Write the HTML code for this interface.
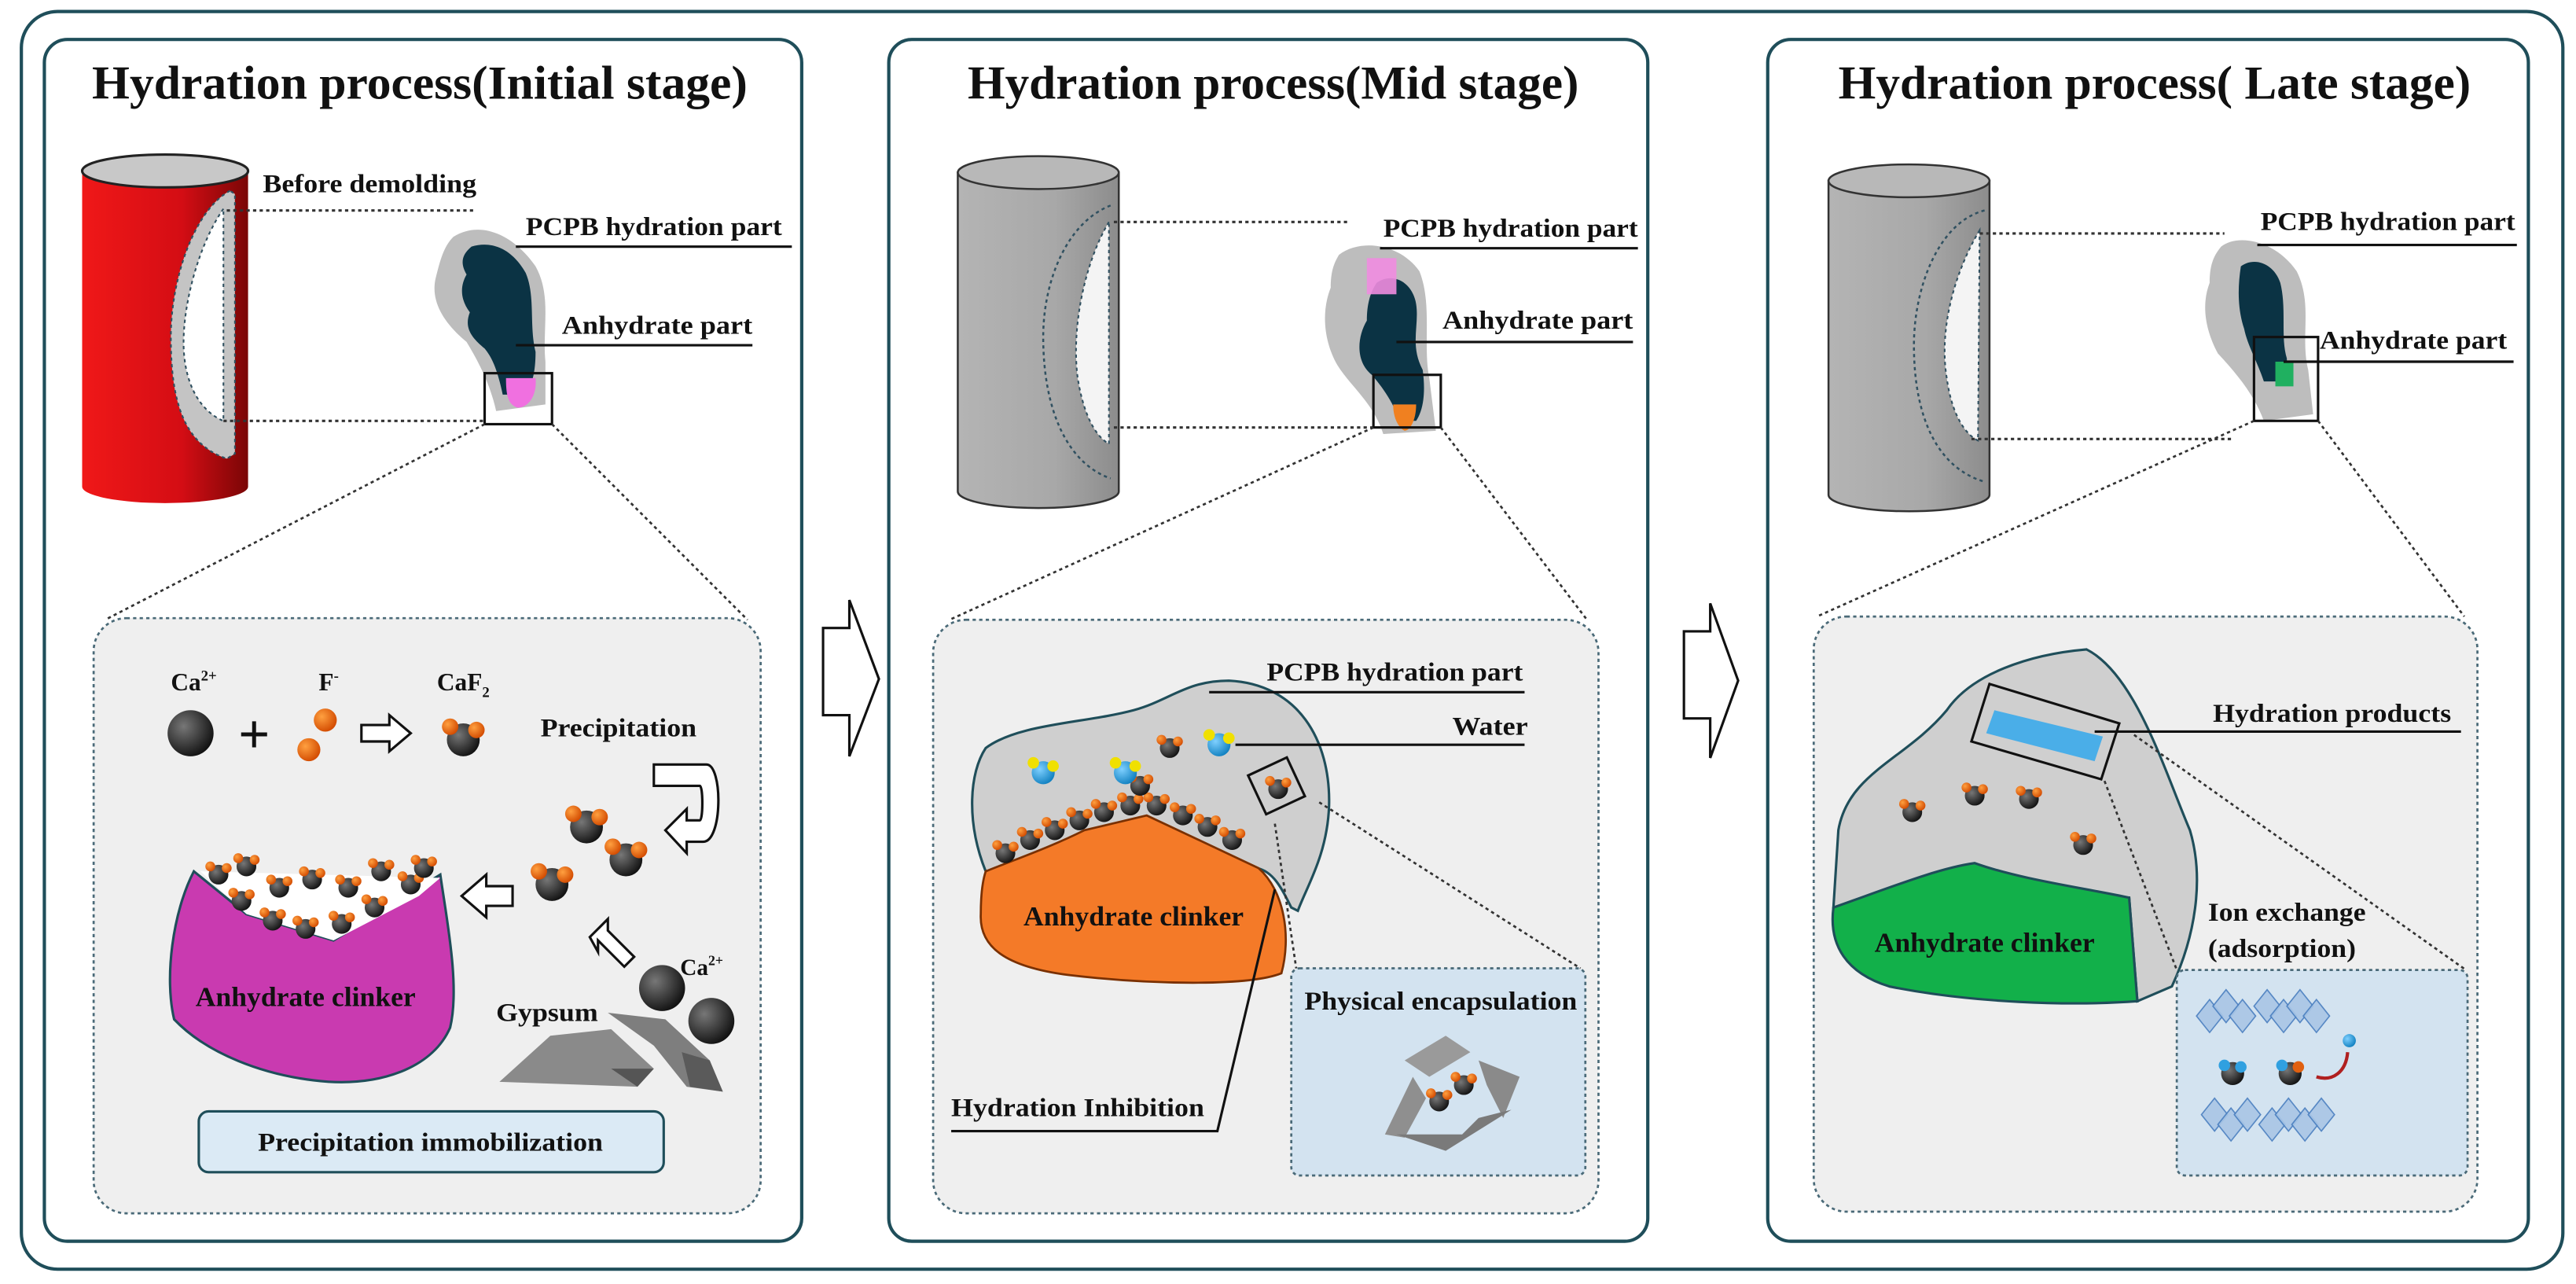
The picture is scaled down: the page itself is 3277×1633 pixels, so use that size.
<!DOCTYPE html>
<html><head><meta charset="utf-8"><style>
html,body{margin:0;padding:0;background:#fff}
svg{display:block}
text{font-family:"Liberation Serif",serif;font-weight:bold;fill:#111}
</style></head><body>
<svg width="3277" height="1633" viewBox="0 0 1568 781" preserveAspectRatio="none" xmlns="http://www.w3.org/2000/svg">
<defs>
<radialGradient id="bk" cx="0.35" cy="0.35" r="0.7"><stop offset="0" stop-color="#777"/><stop offset="1" stop-color="#111"/></radialGradient>
<radialGradient id="or" cx="0.35" cy="0.35" r="0.7"><stop offset="0" stop-color="#ffa040"/><stop offset="1" stop-color="#d24a00"/></radialGradient>
<radialGradient id="bl" cx="0.35" cy="0.35" r="0.7"><stop offset="0" stop-color="#7fd0ff"/><stop offset="1" stop-color="#1080c0"/></radialGradient>
<linearGradient id="red" x1="0" x2="1"><stop offset="0" stop-color="#f01818"/><stop offset="0.6" stop-color="#d40d14"/><stop offset="1" stop-color="#7a0606"/></linearGradient>
<linearGradient id="gry" x1="0" x2="1"><stop offset="0" stop-color="#b4b4b4"/><stop offset="0.6" stop-color="#a8a8a8"/><stop offset="1" stop-color="#8c8c8c"/></linearGradient>
<g id="caf"><circle cx="0" cy="0" r="10" fill="url(#bk)"/><circle cx="-8" cy="-8" r="5" fill="url(#or)"/><circle cx="8" cy="-6" r="5" fill="url(#or)"/></g>
<g id="caf2"><circle cx="0" cy="0" r="6" fill="url(#bk)"/><circle cx="-5" cy="-5" r="3" fill="url(#or)"/><circle cx="5" cy="-4" r="3" fill="url(#or)"/></g>
<g id="h2o"><circle cx="0" cy="0" r="7" fill="url(#bl)"/><circle cx="-6" cy="-6" r="3.5" fill="#f0e000"/><circle cx="6" cy="-4" r="3.5" fill="#f0e000"/></g>
<g id="dia" fill="#a9c6e6" stroke="#4a7fc0" stroke-width="0.8" opacity="0.9"><path d="M0 0 L8 -10 L16 0 L8 10Z"/></g>
</defs>
<rect x="0" y="0" width="1568" height="781" fill="#fff"/>
<rect x="13" y="7" width="1547" height="765" rx="22" fill="none" stroke="#1f4e5a" stroke-width="2"/>

<!-- ===== Panel 1 ===== -->
<rect x="27" y="24" width="461" height="731" rx="14" fill="#fff" stroke="#1f4e5a" stroke-width="2"/>
<text x="56" y="60" font-size="29" textLength="399" lengthAdjust="spacingAndGlyphs">Hydration process(Initial stage)</text>
<path d="M50 104 L50 296 A50.5 10 0 0 0 151 296 L151 104 Z" fill="url(#red)"/>
<ellipse cx="100.5" cy="104" rx="50.5" ry="10" fill="#c8c8c8" stroke="#222" stroke-width="1.5"/>
<path d="M140 116 C118 128 104 170 104 205 C104 245 112 270 138 279 L143 276 L143 118 Z" fill="#c4c4c4" stroke="#305060" stroke-width="1" stroke-dasharray="2,2"/>
<path d="M136 127 C120 150 110 190 112 215 C114 240 126 252 136 256 Z" fill="#fff" stroke="#305060" stroke-width="1" stroke-dasharray="2,2"/>
<text x="160" y="117" font-size="15.5" textLength="130" lengthAdjust="spacingAndGlyphs">Before demolding</text>
<line x1="138" y1="128" x2="290" y2="128" stroke="#333" stroke-width="1.5" stroke-dasharray="2,2"/>
<line x1="136" y1="256" x2="295" y2="256" stroke="#333" stroke-width="1.5" stroke-dasharray="2,2"/>
<path d="M276 144 C292 134 312 142 326 162 C336 180 330 200 332 220 L332 246 L302 250 C298 232 290 218 284 208 C272 198 262 185 265 170 C268 158 270 150 276 144Z" fill="#bdbdbd"/>
<path d="M287 150 C300 146 312 152 320 166 C326 180 322 198 326 214 C326 226 324 234 320 240 L306 240 C303 226 300 218 295 212 C288 206 282 200 286 190 C280 182 280 174 284 167 C280 160 281 155 287 150Z" fill="#0b3344"/>
<path d="M308 230 L326 230 C327 240 322 248 315 248 C309 246 308 240 308 230Z" fill="#f070e0"/>
<rect x="295" y="227" width="41" height="31" fill="none" stroke="#111" stroke-width="1.5"/>
<text x="320" y="143" font-size="15.5" textLength="156" lengthAdjust="spacingAndGlyphs">PCPB hydration part</text>
<line x1="314" y1="150" x2="482" y2="150" stroke="#111" stroke-width="1.5"/>
<text x="342" y="203" font-size="15.5" textLength="116" lengthAdjust="spacingAndGlyphs">Anhydrate part</text>
<line x1="314" y1="210" x2="458" y2="210" stroke="#111" stroke-width="1.5"/>
<line x1="295" y1="258" x2="64" y2="377" stroke="#333" stroke-width="1.3" stroke-dasharray="2,2"/>
<line x1="336" y1="258" x2="455" y2="377" stroke="#333" stroke-width="1.3" stroke-dasharray="2,2"/>
<rect x="57" y="376" width="406" height="362" rx="20" fill="#efefef" stroke="#4a6a78" stroke-width="1.3" stroke-dasharray="2,2"/>
<text x="104" y="420" font-size="15">Ca<tspan font-size="9" dy="-6">2+</tspan></text>
<circle cx="116" cy="446" r="14" fill="url(#bk)"/>
<text x="145" y="458" font-size="34" font-family="Liberation Sans">+</text>
<text x="194" y="420" font-size="15">F<tspan font-size="9" dy="-6">-</tspan></text>
<circle cx="198" cy="438" r="7" fill="url(#or)"/><circle cx="188" cy="456" r="7" fill="url(#or)"/>
<path d="M220 441 L237 441 L237 435 L250 446 L237 457 L237 451 L220 451Z" fill="#fff" stroke="#111" stroke-width="1.5"/>
<text x="266" y="420" font-size="15">CaF<tspan font-size="9" dy="4">2</tspan></text>
<use href="#caf" x="282" y="450"/>
<text x="329" y="448" font-size="15.5" textLength="95" lengthAdjust="spacingAndGlyphs">Precipitation</text>
<path d="M398 465 L430 465 C440 465 440 512 428 512 L418 512 L418 519 L405 505 L418 492 L418 499 L426 499 C428 499 428 478 426 478 L398 478Z" fill="#fff" stroke="#111" stroke-width="1.5"/>
<use href="#caf" x="357" y="503"/><use href="#caf" x="381" y="523"/><use href="#caf" x="336" y="538"/>
<path d="M312 539 L296 539 L296 532 L281 545 L296 558 L296 551 L312 551Z" fill="#fff" stroke="#111" stroke-width="1.5"/>
<path d="M118 530 L150 556 L203 572 L268 532 C272 560 280 600 274 625 C264 648 235 660 200 658 C160 655 125 640 106 620 C100 595 105 555 118 530Z" fill="#c93ab0" stroke="#1f4e5a" stroke-width="1.5"/>
<path d="M122 530 L268 534 L255 545 L203 572 L150 556Z" fill="#fff"/>
<use href="#caf2" x="133" y="532"/><use href="#caf2" x="150" y="527"/><use href="#caf2" x="170" y="540"/><use href="#caf2" x="190" y="535"/><use href="#caf2" x="212" y="540"/><use href="#caf2" x="232" y="530"/><use href="#caf2" x="250" y="538"/><use href="#caf2" x="147" y="548"/><use href="#caf2" x="166" y="560"/><use href="#caf2" x="186" y="565"/><use href="#caf2" x="208" y="562"/><use href="#caf2" x="228" y="552"/><use href="#caf2" x="258" y="528"/>
<text x="119" y="612" font-size="16.5" textLength="134" lengthAdjust="spacingAndGlyphs">Anhydrate clinker</text>
<path d="M359 570 L370 559 L370 566 L386 582 L380 588 L364 572 L364 579Z" fill="#fff" stroke="#111" stroke-width="1.5"/>
<circle cx="403" cy="601" r="14" fill="url(#bk)"/><circle cx="433" cy="621" r="14" fill="url(#bk)"/>
<text x="414" y="593" font-size="14">Ca<tspan font-size="8.5" dy="-6">2+</tspan></text>
<text x="302" y="621" font-size="15.5" textLength="62" lengthAdjust="spacingAndGlyphs">Gypsum</text>
<path d="M304 658 L335 630 L372 626 L398 650 L388 661 Z" fill="#8a8a8a"/>
<path d="M372 650 L398 650 L388 661Z" fill="#555"/>
<path d="M370 616 L405 620 L432 645 L440 664 L418 661 L398 636 Z" fill="#7e7e7e"/>
<path d="M415 640 L432 645 L440 664 L420 661Z" fill="#5a5a5a"/>
<rect x="121" y="676" width="283" height="37" rx="6" fill="#dbeaf5" stroke="#1f4e5a" stroke-width="1.5"/>
<text x="262" y="700" font-size="15.5" text-anchor="middle" textLength="210" lengthAdjust="spacingAndGlyphs">Precipitation immobilization</text>

<!-- big arrows -->
<path d="M501 382 L517 382 L517 365 L535 413 L517 460 L517 435 L501 435Z" fill="#fff" stroke="#111" stroke-width="1.5"/>
<path d="M1025 384 L1041 384 L1041 367 L1058 414 L1041 461 L1041 437 L1025 437Z" fill="#fff" stroke="#111" stroke-width="1.5"/>

<!-- ===== Panel 2 ===== -->
<rect x="541" y="24" width="462" height="731" rx="14" fill="#fff" stroke="#1f4e5a" stroke-width="2"/>
<text x="589" y="60" font-size="29" textLength="372" lengthAdjust="spacingAndGlyphs">Hydration process(Mid stage)</text>
<path d="M583 105 L583 299 A49 10 0 0 0 681 299 L681 105 Z" fill="url(#gry)" stroke="#333" stroke-width="1.2"/>
<ellipse cx="632" cy="105" rx="49" ry="10" fill="#b8b8b8" stroke="#333" stroke-width="1.2"/>
<path d="M676 125 C650 135 635 170 635 205 C635 250 650 282 676 291" fill="none" stroke="#305060" stroke-width="1.2" stroke-dasharray="2,2"/>
<path d="M675 135 C660 160 652 200 656 230 C660 255 668 266 675 270 Z" fill="#f4f4f4" stroke="#305060" stroke-width="1" stroke-dasharray="2,2"/>
<line x1="678" y1="135" x2="822" y2="135" stroke="#333" stroke-width="1.5" stroke-dasharray="2,2"/>
<line x1="678" y1="260" x2="836" y2="260" stroke="#333" stroke-width="1.5" stroke-dasharray="2,2"/>
<path d="M815 155 C828 145 852 148 864 165 C872 185 866 210 870 230 L874 262 L842 264 C836 245 822 235 814 222 C806 208 804 190 810 175 C810 165 812 160 815 155Z" fill="#bdbdbd"/>
<path d="M838 172 C848 165 860 172 862 185 C864 198 858 210 866 225 C868 240 866 250 862 256 L852 256 C848 245 842 236 835 228 C825 220 826 205 832 195 C832 185 834 178 838 172Z" fill="#0b3344"/>
<rect x="832" y="157" width="18" height="22" fill="#f08ce0" opacity="0.9"/>
<path d="M848 246 L862 246 C862 256 858 262 855 262 C851 260 848 254 848 246Z" fill="#f08020"/>
<rect x="836" y="228" width="41" height="32" fill="none" stroke="#111" stroke-width="1.5"/>
<text x="842" y="144" font-size="15.5" textLength="155" lengthAdjust="spacingAndGlyphs">PCPB hydration part</text>
<line x1="840" y1="151" x2="997" y2="151" stroke="#111" stroke-width="1.5"/>
<text x="878" y="200" font-size="15.5" textLength="116" lengthAdjust="spacingAndGlyphs">Anhydrate part</text>
<line x1="850" y1="208" x2="994" y2="208" stroke="#111" stroke-width="1.5"/>
<line x1="836" y1="260" x2="578" y2="377" stroke="#333" stroke-width="1.3" stroke-dasharray="2,2"/>
<line x1="877" y1="260" x2="966" y2="377" stroke="#333" stroke-width="1.3" stroke-dasharray="2,2"/>
<rect x="568" y="377" width="405" height="361" rx="20" fill="#efefef" stroke="#4a6a78" stroke-width="1.3" stroke-dasharray="2,2"/>
<path d="M600 455 C620 440 660 440 690 432 C712 426 722 414 748 414 C790 416 810 450 809 490 C808 520 795 540 790 554 L786 552 C780 540 775 530 765 528 L600 530 C588 500 590 470 600 455Z" fill="#cfcfcf" stroke="#1f4e5a" stroke-width="1.5"/>
<path d="M600 530 C620 522 640 515 660 505 L698 496 L766 528 C782 542 786 570 780 592 C760 600 700 599 650 593 C612 588 596 576 597 556 C597 545 598 536 600 530Z" fill="#f47a28" stroke="#7a3000" stroke-width="1.3"/>
<use href="#caf2" x="612" y="519"/><use href="#caf2" x="627" y="511"/><use href="#caf2" x="642" y="505"/><use href="#caf2" x="657" y="499"/><use href="#caf2" x="672" y="494"/><use href="#caf2" x="688" y="490"/><use href="#caf2" x="704" y="490"/><use href="#caf2" x="720" y="496"/><use href="#caf2" x="735" y="503"/><use href="#caf2" x="750" y="511"/><use href="#caf2" x="694" y="478"/>
<use href="#h2o" x="635" y="470"/><use href="#h2o" x="685" y="470"/><use href="#h2o" x="742" y="453"/>
<use href="#caf2" x="712" y="455"/>
<text x="623" y="563" font-size="16.5" textLength="134" lengthAdjust="spacingAndGlyphs">Anhydrate clinker</text>
<text x="771" y="414" font-size="15.5" textLength="156" lengthAdjust="spacingAndGlyphs">PCPB hydration part</text>
<line x1="736" y1="421" x2="928" y2="421" stroke="#111" stroke-width="1.5"/>
<text x="884" y="447" font-size="15.5" textLength="46" lengthAdjust="spacingAndGlyphs">Water</text>
<line x1="752" y1="453" x2="928" y2="453" stroke="#111" stroke-width="1.5"/>
<rect x="764" y="465" width="26" height="26" fill="none" stroke="#111" stroke-width="1.5" transform="rotate(-25 777 478)"/>
<use href="#caf2" x="778" y="480"/>
<line x1="776" y1="501" x2="789" y2="589" stroke="#333" stroke-width="1.3" stroke-dasharray="2,2"/>
<line x1="803" y1="488" x2="962" y2="589" stroke="#333" stroke-width="1.3" stroke-dasharray="2,2"/>
<rect x="786" y="589" width="179" height="126" rx="5" fill="#d3e3f0" stroke="#4a6a78" stroke-width="1.3" stroke-dasharray="2,2"/>
<text x="794" y="614" font-size="15.5" textLength="166" lengthAdjust="spacingAndGlyphs">Physical encapsulation</text>
<path d="M855 645 L880 630 L895 640 L870 655Z" fill="#9a9a9a"/>
<path d="M900 645 L925 655 L915 680 L905 660Z" fill="#8a8a8a"/>
<path d="M843 690 L860 655 L868 668 L855 692Z" fill="#8f8f8f"/>
<path d="M850 690 L890 690 L900 680 L920 675 L880 700Z" fill="#7a7a7a"/>
<use href="#caf2" x="876" y="670"/><use href="#caf2" x="891" y="660"/>
<text x="579" y="679" font-size="15.5" textLength="154" lengthAdjust="spacingAndGlyphs">Hydration Inhibition</text>
<polyline points="579,688 741,688 776,541" fill="none" stroke="#111" stroke-width="1.5"/>

<!-- ===== Panel 3 ===== -->
<rect x="1076" y="24" width="463" height="731" rx="14" fill="#fff" stroke="#1f4e5a" stroke-width="2"/>
<text x="1119" y="60" font-size="29" textLength="385" lengthAdjust="spacingAndGlyphs">Hydration process( Late stage)</text>
<path d="M1113 110 L1113 301 A49 10 0 0 0 1211 301 L1211 110 Z" fill="url(#gry)" stroke="#333" stroke-width="1.2"/>
<ellipse cx="1162" cy="110" rx="49" ry="10" fill="#b8b8b8" stroke="#333" stroke-width="1.2"/>
<path d="M1208 128 C1180 135 1165 175 1165 210 C1165 255 1180 285 1208 293" fill="none" stroke="#305060" stroke-width="1.2" stroke-dasharray="2,2"/>
<path d="M1205 140 C1190 165 1180 200 1185 230 C1188 252 1196 264 1204 268 Z" fill="#f4f4f4" stroke="#305060" stroke-width="1" stroke-dasharray="2,2"/>
<line x1="1205" y1="142" x2="1354" y2="142" stroke="#333" stroke-width="1.5" stroke-dasharray="2,2"/>
<line x1="1200" y1="267" x2="1358" y2="267" stroke="#333" stroke-width="1.5" stroke-dasharray="2,2"/>
<path d="M1352 150 C1362 142 1385 146 1398 165 C1408 185 1400 205 1405 225 L1408 252 L1378 256 C1372 240 1362 228 1350 215 C1342 200 1340 185 1345 172 C1345 162 1347 156 1352 150Z" fill="#bdbdbd"/>
<path d="M1364 162 C1372 156 1384 160 1388 172 C1392 188 1388 205 1392 218 L1392 232 L1378 232 C1374 220 1368 210 1366 200 C1362 188 1362 175 1364 162Z" fill="#0b3344"/>
<rect x="1385" y="220" width="11" height="15" fill="#20b060"/>
<rect x="1372" y="205" width="39" height="51" fill="none" stroke="#111" stroke-width="1.5"/>
<text x="1376" y="140" font-size="15.5" textLength="155" lengthAdjust="spacingAndGlyphs">PCPB hydration part</text>
<line x1="1374" y1="149" x2="1532" y2="149" stroke="#111" stroke-width="1.5"/>
<text x="1412" y="212" font-size="15.5" textLength="114" lengthAdjust="spacingAndGlyphs">Anhydrate part</text>
<line x1="1390" y1="220" x2="1530" y2="220" stroke="#111" stroke-width="1.5"/>
<line x1="1372" y1="256" x2="1106" y2="375" stroke="#333" stroke-width="1.3" stroke-dasharray="2,2"/>
<line x1="1411" y1="256" x2="1500" y2="375" stroke="#333" stroke-width="1.3" stroke-dasharray="2,2"/>
<rect x="1104" y="375" width="404" height="362" rx="20" fill="#efefef" stroke="#4a6a78" stroke-width="1.3" stroke-dasharray="2,2"/>
<path d="M1119 505 C1125 470 1160 462 1185 432 C1200 410 1235 398 1270 395 C1300 410 1318 470 1333 505 C1342 535 1336 570 1322 600 L1301 609 L1296 546 L1116 552 Z" fill="#cfcfcf" stroke="#1f4e5a" stroke-width="1.5"/>
<path d="M1116 552 C1150 540 1180 528 1202 525 C1230 535 1268 540 1296 546 L1301 609 C1260 612 1200 610 1150 600 C1124 592 1113 575 1116 552Z" fill="#12b04a" stroke="#1f4e5a" stroke-width="1.5"/>
<use href="#caf2" x="1164" y="494"/><use href="#caf2" x="1202" y="484"/><use href="#caf2" x="1235" y="486"/><use href="#caf2" x="1268" y="514"/>
<text x="1141" y="579" font-size="16.5" textLength="134" lengthAdjust="spacingAndGlyphs">Anhydrate clinker</text>
<polygon points="1211,416 1290,440 1279,474 1200,451" fill="none" stroke="#111" stroke-width="1.5"/>
<polygon points="1214,432 1280,448 1275,463 1209,446" fill="#4aaee8"/>
<text x="1347" y="439" font-size="15.5" textLength="145" lengthAdjust="spacingAndGlyphs">Hydration products</text>
<line x1="1275" y1="445" x2="1498" y2="445" stroke="#111" stroke-width="1.5"/>
<line x1="1281" y1="475" x2="1325" y2="590" stroke="#333" stroke-width="1.3" stroke-dasharray="2,2"/>
<line x1="1299" y1="447" x2="1501" y2="590" stroke="#333" stroke-width="1.3" stroke-dasharray="2,2"/>
<text x="1344" y="560" font-size="15.5" textLength="96" lengthAdjust="spacingAndGlyphs">Ion exchange</text>
<text x="1344" y="582" font-size="15.5" textLength="90" lengthAdjust="spacingAndGlyphs">(adsorption)</text>
<rect x="1325" y="590" width="177" height="125" rx="5" fill="#d3e3f0" stroke="#4a6a78" stroke-width="1.3" stroke-dasharray="2,2"/>
<use href="#dia" x="1337" y="618"/><use href="#dia" x="1347" y="612"/><use href="#dia" x="1357" y="618"/><use href="#dia" x="1372" y="612"/><use href="#dia" x="1382" y="618"/><use href="#dia" x="1392" y="612"/><use href="#dia" x="1402" y="618"/>
<use href="#dia" x="1340" y="678"/><use href="#dia" x="1350" y="684"/><use href="#dia" x="1360" y="678"/><use href="#dia" x="1375" y="684"/><use href="#dia" x="1385" y="678"/><use href="#dia" x="1395" y="684"/><use href="#dia" x="1405" y="678"/>
<g><circle cx="1359" cy="653" r="7" fill="url(#bk)"/><circle cx="1354" cy="648" r="3.5" fill="#30a0e0"/><circle cx="1364" cy="649" r="3.5" fill="#30a0e0"/></g>
<g><circle cx="1394" cy="653" r="7" fill="url(#bk)"/><circle cx="1389" cy="648" r="3.5" fill="#30a0e0"/><circle cx="1399" cy="649" r="3.5" fill="#e06010"/></g>
<circle cx="1430" cy="633" r="4" fill="url(#bl)"/>
<path d="M1429 640 C1428 652 1420 658 1410 655" fill="none" stroke="#b02020" stroke-width="2"/>
</svg>
</body></html>
